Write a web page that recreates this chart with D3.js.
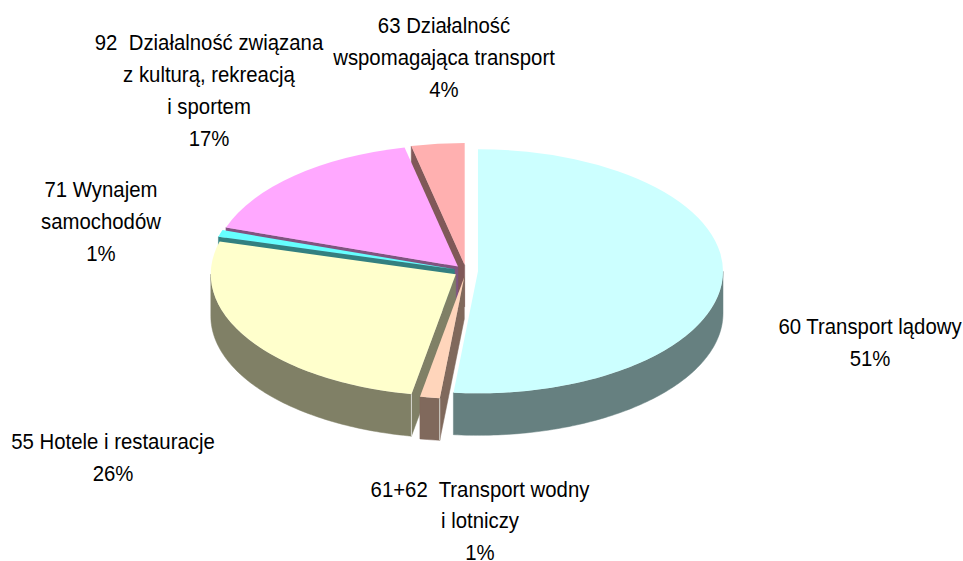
<!DOCTYPE html>
<html><head><meta charset="utf-8">
<script src="https://cdn.jsdelivr.net/npm/d3@7"></script>
<style>html,body{margin:0;padding:0;background:#fff;overflow:hidden}svg{display:block}
text{font-family:"Liberation Sans",Arial,sans-serif;font-size:23px;fill:#000;text-anchor:middle;white-space:pre}</style>
</head><body><svg id="c" width="963" height="561"></svg>
<script>
const categories = ["60 Transport lądowy","61+62 Transport wodny i lotniczy","55 Hotele i restauracje","71 Wynajem samochodów","92 Działalność związana z kulturą, rekreacją i sportem","63 Działalność wspomagająca transport"];
const values = [51.6,1.3,26.4,0.9,16.3,3.5];
const topColors = ["#CCFFFF","#FFD5BB","#FFFFCC","#66FFFF","#FFA8FF","#FFB0B0"];
const wallColors = ["#668080","#80695C","#808066","#338080","#805480","#805858"];
const drawOrder = [5,4,3,2,1,0];
const labelLines = [
 ["60 Transport lądowy","51%"],
 ["61+62  Transport wodny","i lotniczy","1%"],
 ["55 Hotele i restauracje","26%"],
 ["71 Wynajem","samochodów","1%"],
 ["92  Działalność związana","z kulturą, rekreacją","i sportem","17%"],
 ["63 Działalność","wspomagająca transport","4%"]];
const labelAnchor = [[870,334],[480,496.5],[113,449],[101,197],[209,50],[444,33]];

const cx=466, cy=271, rx=245, ry=122, depth=42, explode=12, lineH=32, textSqueeze=0.885;
const svg=d3.select("#c");
const arcs=d3.pie().sort(null).startAngle(0).endAngle(2*Math.PI)(values);
const x=d3.scaleLinear().domain([-1,1]).range([-rx,rx]);
const y=d3.scaleLinear().domain([-1,1]).range([-ry,ry]);
const arcGen=d3.arc().innerRadius(0).outerRadius(1);
const line=d3.line();

drawOrder.forEach(i=>{
  const a=arcs[i], mid=(a.startAngle+a.endAngle)/2;
  const ox=cx+x(Math.sin(mid))*explode/rx, oy=cy-y(Math.cos(mid))*explode/rx;
  const px=t=>x(Math.sin(t)), py=t=>-y(Math.cos(t));
  const g=svg.append("g").attr("transform",`translate(${ox},${oy})`);
  const s=a.startAngle;
  if(Math.sin(s)<-1e-6){
    g.append("path").attr("fill",wallColors[i]).attr("stroke",wallColors[i]).attr("stroke-width",0.5)
     .attr("d",line([[0,0],[px(s),py(s)],[px(s),py(s)+depth],[0,depth]])+"Z");
  }
  const t0=Math.max(a.startAngle,Math.PI/2), t1=Math.min(a.endAngle,3*Math.PI/2);
  if(t1>t0){
    const n=Math.max(2,Math.ceil((t1-t0)*60));
    const ts=d3.range(n+1).map(k=>t0+(t1-t0)*k/n);
    const pts=ts.map(t=>[px(t),py(t)]).concat(ts.slice().reverse().map(t=>[px(t),py(t)+depth]));
    g.append("path").attr("fill",wallColors[i]).attr("stroke",wallColors[i]).attr("stroke-width",0.5).attr("d",line(pts)+"Z");
    if(a.startAngle>=Math.PI/2 && Math.sin(s)<0){
      g.append("path").attr("stroke","#d8d8d0").attr("stroke-width",1).attr("fill","none")
       .attr("d",line([[px(s),py(s)],[px(s),py(s)+depth]]));
    }
  }
  g.append("path").attr("fill",topColors[i])
   .attr("transform",`scale(${rx},${ry})`)
   .attr("d",arcGen(a));
});

labelLines.forEach((lines,i)=>{
  const g=svg.append("g").attr("transform",`translate(${labelAnchor[i][0]},${labelAnchor[i][1]}) scale(${textSqueeze},1)`);
  lines.forEach((l,k)=>g.append("text").attr("x",0).attr("y",k*lineH).text(l));
});
</script></body></html>
